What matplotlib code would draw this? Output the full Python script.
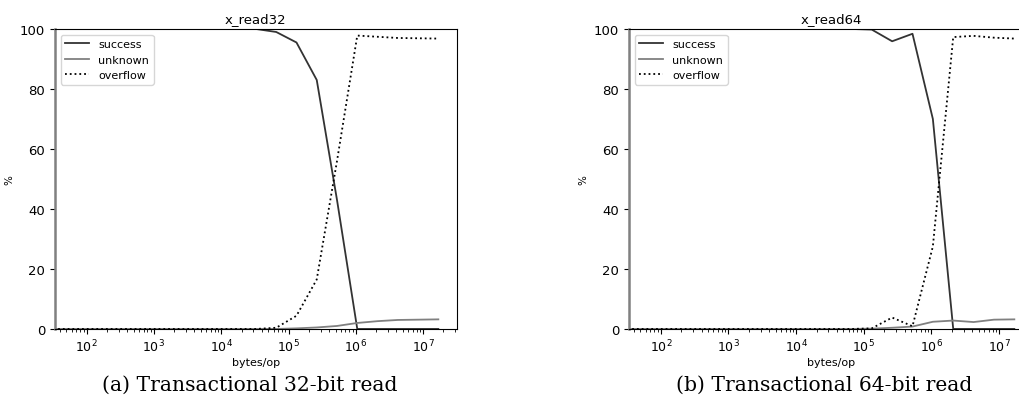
import matplotlib
matplotlib.use('Agg')
import matplotlib.pyplot as plt

#x values: bytes per operation, powers of two from 2^5 to 2^24
bytes_per_op = [2 ** k for k in range(5, 25)]

#x_read32 results (percent)
success32 = [100, 100, 100, 100, 100, 100, 100, 100, 100, 100,
             100, 99, 95.5, 83, 43, 0, 0, 0, 0, 0]
unknown32 = [0, 0, 0, 0, 0, 0, 0, 0, 0, 0,
             0, 0, 0.2, 0.5, 1.0, 2.0, 2.6, 3.0, 3.1, 3.2]
overflow32 = [0, 0, 0, 0, 0, 0, 0, 0, 0, 0,
              0, 0.4, 4.4, 16.5, 56, 97.8, 97.4, 97.0, 96.9, 96.8]

#x_read64 results (percent)
success64 = [100, 100, 100, 100, 100, 100, 100, 100, 100, 100,
             100, 100, 99.8, 95.9, 98.4, 70, 0, 0, 0, 0]
unknown64 = [0, 0, 0, 0, 0, 0, 0, 0, 0, 0,
             0, 0, 0.1, 0.4, 0.8, 2.4, 2.8, 2.3, 3.1, 3.2]
overflow64 = [0, 0, 0, 0, 0, 0, 0, 0, 0, 0,
              0, 0, 0.2, 3.8, 0.9, 27.5, 97.3, 97.7, 97.1, 96.8]

titles = ['x_read32', 'x_read64']
captions = ['(a) Transactional 32-bit read', '(b) Transactional 64-bit read']
series = [(success32, unknown32, overflow32), (success64, unknown64, overflow64)]

fig = plt.figure(figsize=(10.2, 4.14), dpi=100)
axes = [fig.add_axes([0.0539, 0.203, 0.394, 0.7246]),
        fig.add_axes([0.6167, 0.203, 0.396, 0.7246])]
caption_x = [0.245, 0.808]

for ax, title, (succ, unk, ovf), cap, cx in zip(axes, titles, series, captions, caption_x):
    ax.plot(bytes_per_op, succ, color='#333333', lw=1.3, label='success')
    ax.plot(bytes_per_op, unk, color='#808080', lw=1.3, label='unknown')
    ax.plot(bytes_per_op, ovf, color='black', lw=1.3, ls=':', label='overflow')
    ax.set_xscale('log')
    ax.set_xlim(10 ** 1.53, 10 ** 7.5)
    ax.set_ylim(0, 100)
    ax.set_title(title, fontsize=9.5, pad=5)
    ax.set_xlabel('bytes/op', fontsize=8, labelpad=2)
    ax.set_ylabel('%', fontsize=7.5)
    ax.tick_params(axis='y', labelsize=9.5)
    ax.tick_params(axis='x', labelsize=9, pad=2.5)
    ax.spines['left'].set_color('#808080')
    ax.spines['left'].set_linewidth(1.8)
    ax.legend(loc='upper left', fontsize=8, handlelength=2.2)
    fig.text(cx, 0.07, cap, ha='center', va='center',
             family='DejaVu Serif', fontsize=14.6)

fig.savefig('out.png', dpi=100)
